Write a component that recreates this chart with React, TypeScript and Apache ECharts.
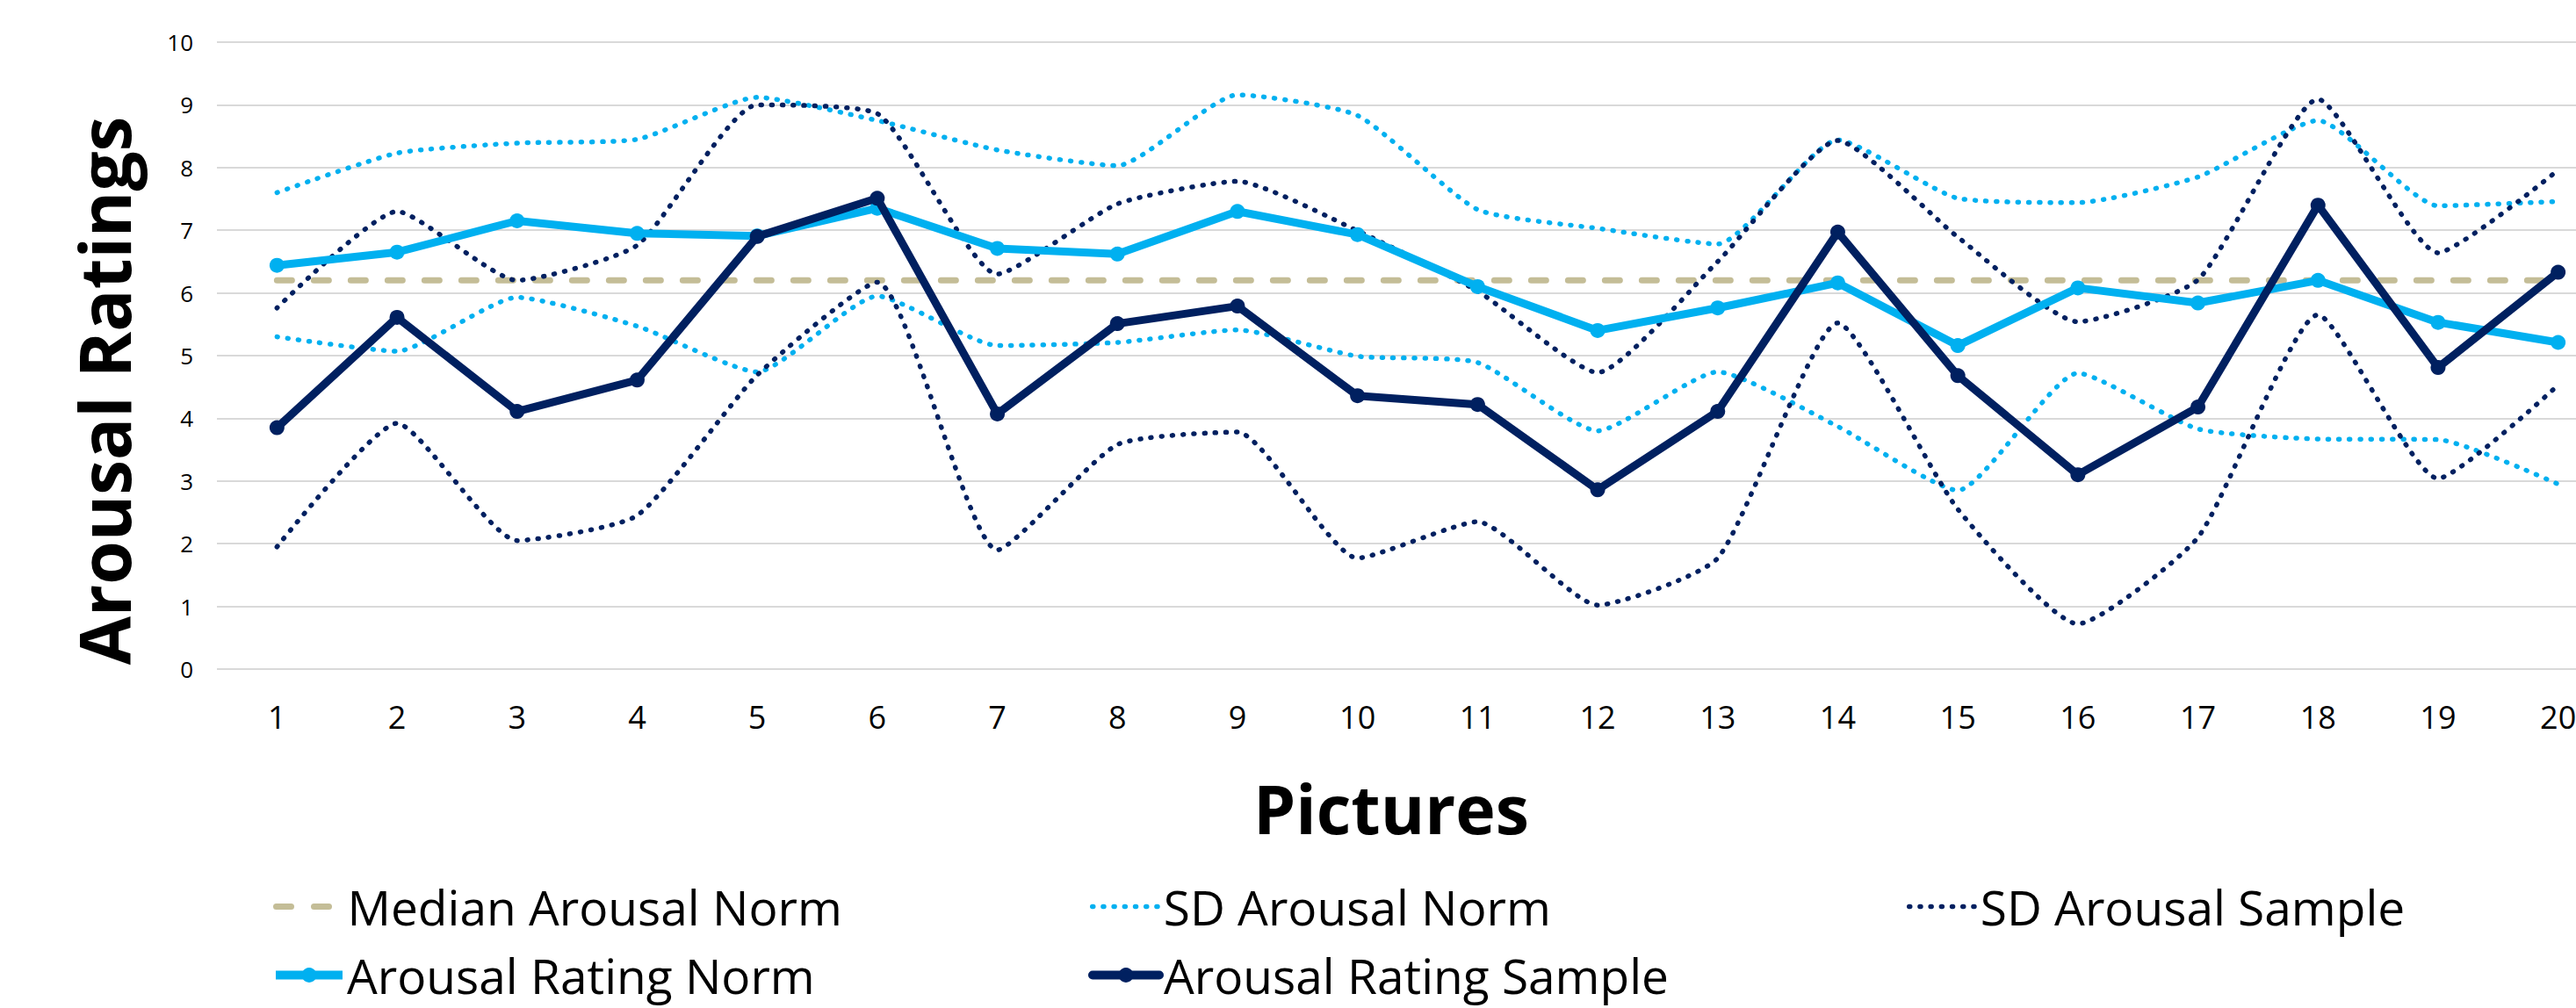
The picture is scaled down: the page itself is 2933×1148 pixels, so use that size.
import React, { useEffect, useRef } from "react";
import * as echarts from "echarts";

const categories = ["1","2","3","4","5","6","7","8","9","10","11","12","13","14","15","16","17","18","19","20"];

const medianNorm = [6.2,6.2,6.2,6.2,6.2,6.2,6.2,6.2,6.2,6.2,6.2,6.2,6.2,6.2,6.2,6.2,6.2,6.2,6.2,6.2];
const sdNormUpper = [7.60,8.23,8.39,8.45,9.12,8.75,8.28,8.03,9.16,8.83,7.33,7.03,6.78,8.44,7.51,7.44,7.85,8.75,7.39,7.46];
const sdNormLower = [5.30,5.07,5.93,5.47,4.74,5.95,5.16,5.21,5.41,4.99,4.89,3.80,4.74,3.87,2.85,4.72,3.83,3.67,3.66,2.95];
const sdSampleUpper = [5.76,7.30,6.20,6.76,9.00,8.86,6.30,7.42,7.78,6.99,6.03,4.73,6.50,8.43,6.89,5.54,6.21,9.09,6.64,7.96];
const sdSampleLower = [1.95,3.92,2.05,2.45,4.69,6.17,1.90,3.58,3.78,1.77,2.35,1.02,1.77,5.52,2.55,0.72,2.10,5.65,3.04,4.53];
const ratingNorm = [6.44,6.65,7.15,6.95,6.91,7.35,6.71,6.62,7.30,6.93,6.10,5.40,5.76,6.16,5.16,6.08,5.84,6.20,5.53,5.21];
const ratingSample = [3.85,5.61,4.11,4.61,6.90,7.51,4.07,5.51,5.79,4.36,4.22,2.86,4.11,6.97,4.68,3.10,4.18,7.40,4.81,6.33];

const LIGHT = "#00b0f0";
const DARK = "#002060";
const TAN = "#c4bd97";
const FONT = "Open Sans";
const SMOOTH = 0.18;

export default function App() {
  const ref = useRef<HTMLDivElement>(null);

  useEffect(() => {
    document.body.style.margin = "0";
    document.documentElement.style.overflow = "hidden";
    document.body.style.overflow = "hidden";
    if (!ref.current) return;
    const chart = echarts.init(ref.current, null, { renderer: "svg" });

    const dotted = (color: string) => ({
      color,
      width: 5.5,
      type: [1, 11.2] as any,
      cap: "round" as const,
      join: "round" as const,
    });

    const legendBase = {
      orient: "horizontal",
      padding: 0,
      itemWidth: 76,
      itemHeight: 21,
      selectedMode: false,
      textStyle: { fontSize: 55, fontFamily: FONT, color: "#000" },
    };

    const option: any = {
      animation: false,
      backgroundColor: "#ffffff",
      grid: {
        left: 247,
        right: -48,
        top: 48,
        bottom: 386,
        containLabel: false,
        outerBoundsMode: "none",
      },
      xAxis: {
        type: "category",
        data: categories,
        boundaryGap: true,
        axisLine: { show: false },
        axisTick: { show: false },
        splitLine: { show: false },
        axisLabel: { interval: 0, margin: 36, fontSize: 36, fontFamily: FONT, color: "#000", hideOverlap: false },
      },
      yAxis: {
        type: "value",
        min: 0,
        max: 10,
        interval: 1,
        axisLine: { show: false },
        axisTick: { show: false },
        axisLabel: { margin: 27, fontSize: 26, fontFamily: FONT, color: "#000" },
        splitLine: { lineStyle: { color: "#d9d9d9", width: 2 } },
      },
      legend: [
        {
          ...legendBase, left: 311, top: 1005, data: ["Median Arousal Norm"],
          itemStyle: { opacity: 0 },
          lineStyle: { width: 7, color: TAN, type: [17, 26], cap: "round" },
        },
        {
          ...legendBase, left: 1241, top: 1005, data: ["SD Arousal Norm"],
          itemStyle: { opacity: 0 },
          lineStyle: { width: 5.5, color: LIGHT, type: [1, 11.2], cap: "round" },
        },
        {
          ...legendBase, left: 2171, top: 1005, data: ["SD Arousal Sample"],
          itemStyle: { opacity: 0 },
          lineStyle: { width: 5.5, color: DARK, type: [1, 11.2], cap: "round" },
        },
        {
          ...legendBase, left: 309, top: 1083, data: ["Arousal Rating Norm"],
          lineStyle: { width: 10, color: LIGHT },
        },
        {
          ...legendBase, left: 1239, top: 1083, data: ["Arousal Rating Sample"],
          lineStyle: { width: 10, color: DARK, cap: "round" },
        },
      ],
      graphic: [
        {
          type: "text",
          x: 1584,
          y: 920,
          silent: true,
          style: {
            text: "Pictures",
            fontSize: 77,
            fontWeight: "bold",
            fontFamily: FONT,
            fill: "#000",
            align: "center",
            verticalAlign: "middle",
          },
        },
        {
          type: "text",
          x: 117,
          y: 445,
          rotation: Math.PI / 2,
          silent: true,
          style: {
            text: "Arousal Ratings",
            fontSize: 80,
            fontWeight: "bold",
            fontFamily: FONT,
            fill: "#000",
            align: "center",
            verticalAlign: "middle",
          },
        },
      ],
      series: [
        {
          name: "Median Arousal Norm",
          type: "line",
          data: medianNorm,
          symbol: "none",
          showSymbol: false,
          silent: true,
          itemStyle: { color: TAN },
          lineStyle: { color: TAN, width: 7, type: [17, 25], cap: "round" },
          z: 2,
        },
        {
          name: "SD Arousal Norm",
          type: "line",
          data: sdNormUpper,
          symbol: "none",
          showSymbol: false,
          smooth: SMOOTH,
          silent: true,
          itemStyle: { color: LIGHT },
          lineStyle: dotted(LIGHT),
          z: 3,
        },
        {
          name: "SD Arousal Norm",
          type: "line",
          data: sdNormLower,
          symbol: "none",
          showSymbol: false,
          smooth: SMOOTH,
          silent: true,
          itemStyle: { color: LIGHT },
          lineStyle: dotted(LIGHT),
          z: 3,
        },
        {
          name: "SD Arousal Sample",
          type: "line",
          data: sdSampleUpper,
          symbol: "none",
          showSymbol: false,
          smooth: SMOOTH,
          silent: true,
          itemStyle: { color: DARK },
          lineStyle: dotted(DARK),
          z: 3,
        },
        {
          name: "SD Arousal Sample",
          type: "line",
          data: sdSampleLower,
          symbol: "none",
          showSymbol: false,
          smooth: SMOOTH,
          silent: true,
          itemStyle: { color: DARK },
          lineStyle: dotted(DARK),
          z: 3,
        },
        {
          name: "Arousal Rating Norm",
          type: "line",
          data: ratingNorm,
          symbol: "circle",
          symbolSize: 17,
          showSymbol: true,
          silent: true,
          itemStyle: { color: LIGHT },
          lineStyle: { color: LIGHT, width: 9, join: "round" },
          z: 4,
        },
        {
          name: "Arousal Rating Sample",
          type: "line",
          data: ratingSample,
          symbol: "circle",
          symbolSize: 17,
          showSymbol: true,
          silent: true,
          itemStyle: { color: DARK },
          lineStyle: { color: DARK, width: 9, join: "round" },
          z: 5,
        },
      ],
    };

    chart.setOption(option);
    return () => {
      chart.dispose();
    };
  }, []);

  return <div ref={ref} style={{ width: 2933, height: 1148, overflow: "hidden" }} />;
}
